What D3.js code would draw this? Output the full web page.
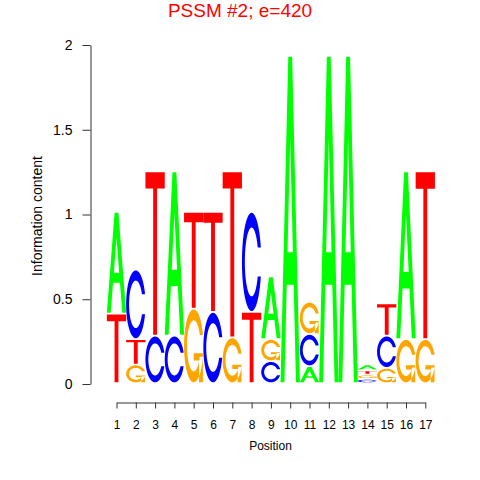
<!DOCTYPE html>
<html>
<head>
<meta charset="utf-8">
<script src="https://cdn.jsdelivr.net/npm/d3@7"></script>
<style>
  html, body { margin: 0; padding: 0; background: #fff; }
  svg { display: block; font-family: "Liberation Sans", Arial, Helvetica, sans-serif; }
</style>
</head>
<body>
<svg id="chart" width="480" height="480"></svg>
<script>
// ---- data (information content in bits, per letter, per position) ----
const positions = [1,2,3,4,5,6,7,8,9,10,11,12,13,14,15,16,17];
const letters   = ["A","C","G","T"];
const bitsA = [0.59, 0.00, 0.00, 0.96, 0.00, 0.00, 0.00, 0.00, 0.36, 1.92, 0.09, 1.92, 1.92, 0.025, 0.00, 0.98, 0.00];
const bitsC = [0.00, 0.40, 0.27, 0.27, 0.00, 0.41, 0.00, 0.58, 0.12, 0.00, 0.18, 0.00, 0.00, 0.015, 0.18, 0.00, 0.00];
const bitsG = [0.00, 0.10, 0.00, 0.00, 0.43, 0.00, 0.26, 0.00, 0.12, 0.00, 0.18, 0.00, 0.00, 0.015, 0.08, 0.25, 0.25];
const bitsT = [0.40, 0.14, 0.96, 0.00, 0.56, 0.58, 0.97, 0.41, 0.00, 0.00, 0.00, 0.00, 0.00, 0.015, 0.18, 0.00, 0.98];
const yTickValues = [0, 0.5, 1, 1.5, 2];
const yTickLabels = ["0", "0.5", "1", "1.5", "2"];
const xTickLabels = positions.map(String);
const titleText = "PSSM #2; e=420";
const xLabel = "Position";
const yLabel = "Information content";
const letterColors = {A: "#00FF00", C: "#0000FF", G: "#FFA500", T: "#FF0000"};

// ---- scales ----
const svg = d3.select("#chart");
const x = d3.scaleLinear().domain([1, 17]).range([116.5, 425.3]);
const y = d3.scaleLinear().domain([0, 2]).range([384, 45]);
const colW = x(2) - x(1);
const baseGap = 0.01, stackGap = 0.01;

// ---- letter glyph shapes in unit square (y up) ----
function ringShape() {
  const n = 100;
  const s1 = 0.3 + Math.PI / 2, e1 = Math.PI;
  const a1 = d3.range(n).map(i => s1 + (e1 - s1) * i / (n - 1));
  const a2 = d3.range(n).map(i => Math.PI + 0.5 * Math.PI * i / (n - 1));
  const xl1 = a1.map(a => 0.5 + 0.5 * Math.sin(a)), yl1 = a1.map(a => 0.5 + 0.5 * Math.cos(a));
  const xl2 = a2.map(a => 0.5 + 0.5 * Math.sin(a)), yl2 = a2.map(a => 0.5 + 0.5 * Math.cos(a));
  const xl = xl1.concat(xl2), yl = yl1.concat(yl2);
  const xo = xl.concat(xl.slice().reverse());
  const yo = yl.concat(yl.slice().reverse().map(v => 1 - v));
  const maxY = d3.max(yl1);
  let xi1 = a1.map(a => 0.5 + 0.35 * Math.sin(a)), yi1 = a1.map(a => 0.5 + 0.35 * Math.cos(a));
  const keep = yi1.map(v => v <= maxY);
  xi1 = xi1.filter((v, i) => keep[i]); yi1 = yi1.filter((v, i) => keep[i]);
  yi1[0] = maxY;
  const xi2 = a2.map(a => 0.5 + 0.35 * Math.sin(a)), yi2 = a2.map(a => 0.5 + 0.35 * Math.cos(a));
  const xi = xi1.concat(xi2), yi = yi1.concat(yi2);
  const x1 = xi.concat(xi.slice().reverse());
  const y1 = yi.concat(yi.slice().reverse().map(v => 1 - v));
  const xs = xo.concat(x1.slice().reverse()), ys = yo.concat(y1.slice().reverse());
  return {pts: xs.map((v, i) => [v, ys[i]]), r1: d3.max(xl1)};
}
const ring = ringShape();
const shapes = {
  A: [
    [[0,0],[0.4,1],[0.6,1],[1,0],[0.8,0],[0.68,0.3],[0.32,0.3],[0.2,0],[0,0]],
    [[0.36,0.4],[0.5,0.75],[0.64,0.4],[0.36,0.4]]
  ],
  T: [[[0,1],[1,1],[1,0.9],[0.6,0.9],[0.6,0],[0.4,0],[0.4,0.9],[0,0.9]]],
  C: [ring.pts],
  G: [ring.pts, [[ring.r1,0.4],[0.5,0.4],[0.5,0.3],[ring.r1-0.2,0.3],[ring.r1-0.2,0],[ring.r1,0],[ring.r1,0.4]]]
};
// G bar + stem are added as separate filled polygon (nonzero union)

function glyphPath(letter, x0, w, yb, h) {
  const polys = shapes[letter];
  let d = "";
  polys.forEach(poly => {
    d += "M" + poly.map(p => (x0 + p[0] * w).toFixed(2) + "," + y(yb + p[1] * h).toFixed(2)).join("L") + "Z";
  });
  return d;
}

// ---- build stacks ----
const table = {A: bitsA, C: bitsC, G: bitsG, T: bitsT};
const glyphs = [];
positions.forEach((pos, j) => {
  const col = letters.map((l, k) => ({letter: l, h: table[l][j], k}));
  col.sort((a, b) => (a.h - b.h) || (a.k - b.k));
  let yb = baseGap;
  col.forEach(c => {
    if (c.h > 0) {
      glyphs.push({pos, letter: c.letter, yb, h: c.h});
      yb += c.h + stackGap;
    }
  });
});

svg.append("g").selectAll("path").data(glyphs).join("path")
  .attr("d", d => glyphPath(d.letter, x(d.pos) - colW / 2, colW, d.yb, d.h))
  .attr("fill", d => letterColors[d.letter])
  .attr("fill-rule", d => d.letter === "A" ? "evenodd" : "nonzero");

// ---- axes ----
const yAxis = d3.axisLeft(y).tickValues(yTickValues)
  .tickFormat((d, i) => yTickLabels[i]).tickSize(8).tickSizeOuter(0).tickPadding(10);
const gy = svg.append("g").attr("transform", "translate(90.5,0)").call(yAxis);
gy.selectAll("text").attr("font-size", 14).attr("fill", "#000").attr("font-family", "Liberation Sans, Arial, sans-serif");
gy.selectAll("line, path").attr("stroke", "#333");

const xAxis = d3.axisBottom(x).tickValues(positions)
  .tickFormat((d, i) => xTickLabels[i]).tickSize(6).tickSizeOuter(0).tickPadding(12);
const gx = svg.append("g").attr("transform", "translate(0,402.5)").call(xAxis);
gx.selectAll("text").attr("font-size", 12).attr("fill", "#000").attr("font-family", "Liberation Sans, Arial, sans-serif");
gx.selectAll("line, path").attr("stroke", "#333");

// ---- titles ----
svg.append("text").attr("x", 240).attr("y", 17).attr("text-anchor", "middle")
  .attr("font-size", 19).attr("fill", "#FF0000").text(titleText);
svg.append("text").attr("x", 270.5).attr("y", 450).attr("text-anchor", "middle")
  .attr("font-size", 12).attr("fill", "#000").text(xLabel);
svg.append("text").attr("transform", "translate(42,216) rotate(-90)").attr("text-anchor", "middle")
  .attr("font-size", 14).attr("fill", "#000").text(yLabel);
</script>
</body>
</html>
